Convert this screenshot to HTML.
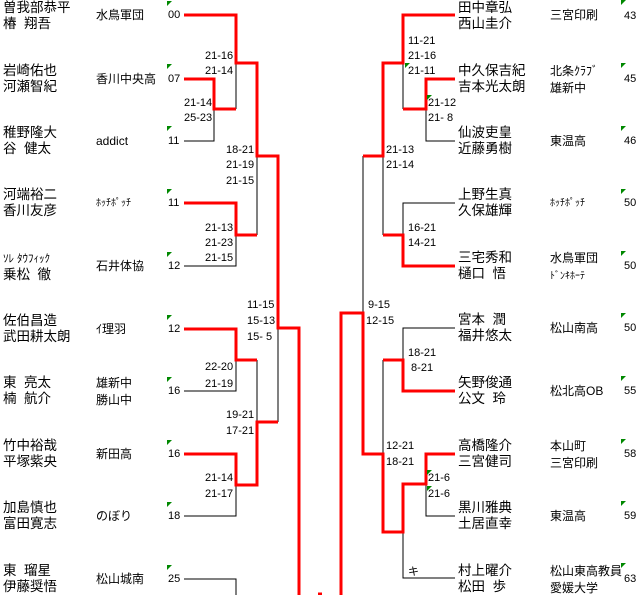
<!DOCTYPE html>
<html><head><meta charset="utf-8"><style>
body{margin:0;width:640px;height:595px;background:#fff;position:relative;overflow:hidden;font-family:"Liberation Sans","Noto Sans CJK JP",sans-serif;color:#000}
.n{position:absolute;font-size:13.5px;line-height:16px;white-space:nowrap}
.t{position:absolute;font-size:12px;line-height:17px;white-space:nowrap}
.s{position:absolute;font-family:"Liberation Sans",sans-serif;font-size:11px;line-height:12px;white-space:pre}
.k{position:absolute;font-family:"Liberation Sans",sans-serif;font-size:11px;line-height:12px}
.g{position:absolute;width:0;height:0;border-top:5px solid #080;border-right:5px solid transparent}
svg{position:absolute;left:0;top:0}
</style></head><body>
<svg width="640" height="595" fill="none">
<g stroke="#000" stroke-width="1">
<path d="M236,63V109M184,141H214V109M257,156V235M236,235V266H184M236,360V391H184M236,485V516H184M257,360V422M278,328V422M184,579H236V595"/>
<path d="M363,156V313M403,63V109M426,109V141H455M455,203H403V235M383,156V235M455,328H403V360M383,360V454M426,484V516H455M403,532V578H455"/>
</g>
<g stroke="#f00" stroke-width="3">
<path d="M184,15H236V63H257V156H278V328H299V595"/>
<path d="M184,79H214V109H236"/>
<path d="M184,203H236V235H257"/>
<path d="M184,329H236V360H257"/>
<path d="M184,454H236V485H257V422H278"/>
<path d="M455,15H403V63H383V156H363"/>
<path d="M455,79H426V109H403"/>
<path d="M455,266H403V235H383"/>
<path d="M341,595V313H363V454H383V532H403V484H426V454H455"/>
<path d="M455,391H403V360H383"/>
<path d="M318,594H322"/>
</g>
</svg>
<div class="n" style="left:3px;top:0">曽我部恭平<br>椿&nbsp;&nbsp;翔吾</div>
<div class="n" style="left:3px;top:63px">岩崎佑也<br>河瀬智紀</div>
<div class="n" style="left:3px;top:125px">稚野隆大<br>谷&nbsp;&nbsp;健太</div>
<div class="n" style="left:3px;top:187px">河端裕二<br>香川友彦</div>
<div class="n" style="left:3px;top:250px"><span style="font-size:11px">ｿﾚ ﾀｳﾌｨｯｸ</span><br>乗松&nbsp;&nbsp;徹</div>
<div class="n" style="left:3px;top:313px">佐伯昌造<br>武田耕太朗</div>
<div class="n" style="left:3px;top:375px">東&nbsp;&nbsp;亮太<br>楠&nbsp;&nbsp;航介</div>
<div class="n" style="left:3px;top:438px">竹中裕哉<br>平塚紫央</div>
<div class="n" style="left:3px;top:500px">加島慎也<br>富田寛志</div>
<div class="n" style="left:3px;top:563px">東&nbsp;&nbsp;瑠星<br>伊藤奨悟</div>
<div class="t" style="left:96px;top:7px">水鳥軍団</div>
<div class="t" style="left:96px;top:71px">香川中央高</div>
<div class="t" style="left:96px;top:133px">addict</div>
<div class="t" style="left:96px;top:195px;font-size:10px">ﾎｯﾁﾎﾟｯﾁ</div>
<div class="t" style="left:96px;top:258px">石井体協</div>
<div class="t" style="left:96px;top:321px">ｲ理羽</div>
<div class="t" style="left:96px;top:375px">雄新中<br>勝山中</div>
<div class="t" style="left:96px;top:446px">新田高</div>
<div class="t" style="left:96px;top:508px">のぼり</div>
<div class="t" style="left:96px;top:571px">松山城南</div>
<div class="k" style="left:168px;top:9px">00</div>
<div class="k" style="left:168px;top:73px">07</div>
<div class="k" style="left:168px;top:135px">11</div>
<div class="k" style="left:168px;top:197px">11</div>
<div class="k" style="left:168px;top:260px">12</div>
<div class="k" style="left:168px;top:323px">12</div>
<div class="k" style="left:168px;top:385px">16</div>
<div class="k" style="left:168px;top:448px">16</div>
<div class="k" style="left:168px;top:510px">18</div>
<div class="k" style="left:168px;top:573px">25</div>
<div class="g" style="left:167px;top:1px"></div><div class="g" style="left:167px;top:64px"></div><div class="g" style="left:167px;top:126px"></div><div class="g" style="left:167px;top:189px"></div><div class="g" style="left:167px;top:252px"></div><div class="g" style="left:167px;top:315px"></div><div class="g" style="left:167px;top:377px"></div><div class="g" style="left:167px;top:440px"></div><div class="g" style="left:167px;top:502px"></div><div class="g" style="left:167px;top:565px"></div>
<div class="s" style="left:205px;top:50px">21-16</div><div class="s" style="left:205px;top:65px">21-14</div>
<div class="s" style="left:184px;top:97px">21-14</div><div class="s" style="left:184px;top:112px">25-23</div>
<div class="s" style="left:226px;top:144px">18-21</div><div class="s" style="left:226px;top:159px">21-19</div><div class="s" style="left:226px;top:175px">21-15</div>
<div class="s" style="left:205px;top:222px">21-13</div><div class="s" style="left:205px;top:237px">21-23</div><div class="s" style="left:205px;top:252px">21-15</div>
<div class="s" style="left:247px;top:299px">11-15</div><div class="s" style="left:247px;top:315px">15-13</div><div class="s" style="left:247px;top:331px">15- 5</div>
<div class="s" style="left:205px;top:361px">22-20</div><div class="s" style="left:205px;top:378px">21-19</div>
<div class="s" style="left:226px;top:409px">19-21</div><div class="s" style="left:226px;top:425px">17-21</div>
<div class="s" style="left:205px;top:472px">21-14</div><div class="s" style="left:205px;top:488px">21-17</div>
<div class="n" style="left:458px;top:0">田中章弘<br>西山圭介</div>
<div class="n" style="left:458px;top:63px">中久保吉紀<br>吉本光太朗</div>
<div class="n" style="left:458px;top:125px">仙波吏皇<br>近藤勇樹</div>
<div class="n" style="left:458px;top:187px">上野生真<br>久保雄輝</div>
<div class="n" style="left:458px;top:250px">三宅秀和<br>樋口&nbsp;&nbsp;悟</div>
<div class="n" style="left:458px;top:312px">宮本&nbsp;&nbsp;潤<br>福井悠太</div>
<div class="n" style="left:458px;top:375px">矢野俊通<br>公文&nbsp;&nbsp;玲</div>
<div class="n" style="left:458px;top:438px">高橋隆介<br>三宮健司</div>
<div class="n" style="left:458px;top:500px">黒川雅典<br>土居直幸</div>
<div class="n" style="left:458px;top:563px">村上曜介<br>松田&nbsp;&nbsp;歩</div>
<div class="t" style="left:550px;top:7px">三宮印刷</div>
<div class="t" style="left:550px;top:63px">北条ｸﾗﾌﾞ<br>雄新中</div>
<div class="t" style="left:550px;top:133px">東温高</div>
<div class="t" style="left:550px;top:195px;font-size:10px">ﾎｯﾁﾎﾟｯﾁ</div>
<div class="t" style="left:550px;top:250px">水鳥軍団<br><span style="font-size:10px">ﾄﾞﾝｷﾎｰﾃ</span></div>
<div class="t" style="left:550px;top:320px">松山南高</div>
<div class="t" style="left:550px;top:383px">松北高OB</div>
<div class="t" style="left:550px;top:438px">本山町<br>三宮印刷</div>
<div class="t" style="left:550px;top:508px">東温高</div>
<div class="t" style="left:550px;top:563px">松山東高教員<br>愛媛大学</div>
<div class="k" style="left:624px;top:10px">43</div>
<div class="k" style="left:624px;top:73px">45</div>
<div class="k" style="left:624px;top:135px">46</div>
<div class="k" style="left:624px;top:197px">50</div>
<div class="k" style="left:624px;top:260px">50</div>
<div class="k" style="left:624px;top:322px">50</div>
<div class="k" style="left:624px;top:385px">55</div>
<div class="k" style="left:624px;top:448px">58</div>
<div class="k" style="left:624px;top:510px">59</div>
<div class="k" style="left:624px;top:573px">63</div>
<div class="g" style="left:621px;top:0px"></div><div class="g" style="left:621px;top:63px"></div><div class="g" style="left:621px;top:126px"></div><div class="g" style="left:621px;top:189px"></div><div class="g" style="left:621px;top:251px"></div><div class="g" style="left:621px;top:313px"></div><div class="g" style="left:621px;top:376px"></div><div class="g" style="left:621px;top:439px"></div><div class="g" style="left:621px;top:501px"></div><div class="g" style="left:621px;top:563px"></div>
<div class="g" style="left:405px;top:63px"></div><div class="g" style="left:427px;top:95px"></div><div class="g" style="left:427px;top:470px"></div><div class="g" style="left:427px;top:486px"></div>
<div class="s" style="left:408px;top:35px">11-21</div><div class="s" style="left:408px;top:50px">21-16</div><div class="s" style="left:408px;top:65px">21-11</div>
<div class="s" style="left:428px;top:97px">21-12</div><div class="s" style="left:428px;top:112px">21- 8</div>
<div class="s" style="left:386px;top:144px">21-13</div><div class="s" style="left:386px;top:159px">21-14</div>
<div class="s" style="left:408px;top:222px">16-21</div><div class="s" style="left:408px;top:237px">14-21</div>
<div class="s" style="left:368px;top:299px">9-15</div><div class="s" style="left:366px;top:315px">12-15</div>
<div class="s" style="left:408px;top:347px">18-21</div><div class="s" style="left:408px;top:362px"> 8-21</div>
<div class="s" style="left:386px;top:440px">12-21</div><div class="s" style="left:386px;top:456px">18-21</div>
<div class="s" style="left:428px;top:472px">21-6</div><div class="s" style="left:428px;top:488px">21-6</div>
<div class="s" style="left:408px;top:566px">キ</div>
</body></html>
